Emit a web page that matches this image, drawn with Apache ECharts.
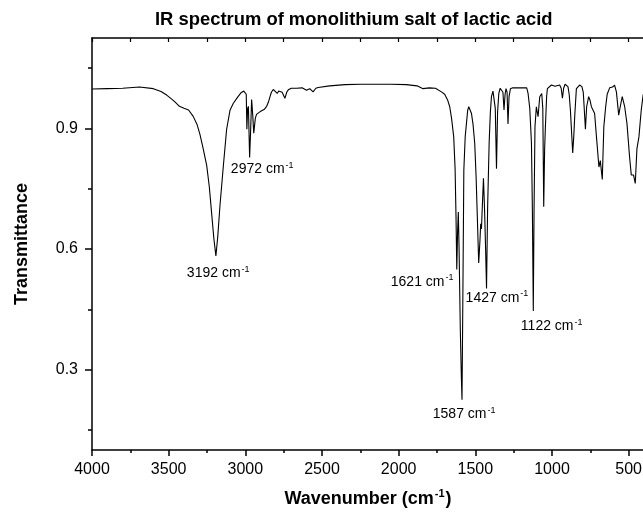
<!DOCTYPE html>
<html>
<head>
<meta charset="utf-8">
<script src="https://cdn.jsdelivr.net/npm/echarts@6/dist/echarts.min.js"></script>
<style>
html,body{margin:0;padding:0;background:#fff;}
#chart{width:643px;height:513px;}
</style>
</head>
<body>
<div id="chart"></div>
<script>
// Spectrum data (wavenumber in cm-1, transmittance)
var wavenumber = [4000,3900,3800,3690,3600,3550,3513,3480,3459,3430,3400,3370,3340,3315,3296,3275,3252,3235,3220,3205,3192,3180,3165,3144,3122,3100,3079,3050,3030,3010,3000,2994,2990,2985,2980,2972,2965,2959,2952,2945,2935,2927,2910,2894,2875,2861,2850,2840,2830,2818,2805,2792,2782,2775,2760,2742,2730,2720,2700,2666,2630,2601,2580,2558,2540,2525,2450,2350,2250,2150,2050,1950,1880,1841,1800,1760,1721,1700,1680,1667,1655,1641,1632,1626,1621,1616,1611,1606,1598,1591,1587,1582,1575,1566,1558,1550,1543,1535,1525,1515,1504,1495,1487,1478,1470,1465,1460,1455,1447,1440,1433,1427,1420,1410,1402,1395,1385,1378,1370,1362,1355,1347,1338,1330,1320,1313,1306,1300,1293,1287,1280,1271,1256,1200,1165,1156,1145,1134,1128,1122,1117,1111,1102,1091,1080,1067,1060,1054,1048,1043,1035,1030,1004,980,950,940,932,924,915,896,888,880,865,858,852,841,820,805,796,782,774,761,752,743,722,710,694,685,672,662,650,640,624,605,592,580,565,555,542,535,526,511,494,483,468,457,446,433,418,405];
var transmittance = [0.998,0.999,1.000,1.003,0.999,0.992,0.983,0.973,0.966,0.955,0.950,0.946,0.930,0.910,0.885,0.850,0.808,0.755,0.690,0.625,0.583,0.630,0.710,0.804,0.898,0.945,0.962,0.978,0.988,0.993,0.996,0.985,0.898,0.950,0.955,0.828,0.900,0.972,0.935,0.888,0.925,0.935,0.940,0.944,0.948,0.955,0.965,0.978,0.990,0.997,0.993,0.987,0.993,0.991,0.990,0.975,0.990,0.996,1.000,1.000,1.001,0.995,0.999,0.991,1.000,1.002,1.006,1.009,1.010,1.010,1.010,1.009,1.006,0.999,1.001,1.000,0.991,0.985,0.970,0.954,0.925,0.879,0.800,0.680,0.549,0.640,0.692,0.600,0.400,0.280,0.225,0.450,0.796,0.880,0.912,0.945,0.954,0.950,0.937,0.910,0.863,0.780,0.680,0.565,0.620,0.663,0.650,0.700,0.776,0.700,0.600,0.502,0.700,0.863,0.940,0.979,0.993,0.995,0.950,0.800,0.940,0.987,1.000,1.004,0.990,0.946,0.985,0.999,0.990,0.911,0.980,0.999,1.001,1.001,1.001,0.987,0.950,0.863,0.700,0.446,0.700,0.904,0.954,0.929,0.979,0.987,0.950,0.705,0.850,0.904,0.980,0.999,1.008,1.005,1.008,1.000,0.975,1.000,1.010,1.004,0.985,0.946,0.839,0.880,0.929,0.999,1.008,1.004,0.990,0.898,0.954,0.979,0.970,0.954,0.937,0.879,0.804,0.820,0.773,0.904,0.954,0.985,1.001,1.003,1.008,0.991,0.933,0.954,0.979,0.975,0.954,0.912,0.829,0.784,0.784,0.763,0.850,0.879,0.946,0.985];

// Peak annotations
var annoText = ['3192 cm','2972 cm','1621 cm','1587 cm','1427 cm','1122 cm'];
var annoX = [3177,2890,1847,1573,1359,1002];
var annoY = [0.540,0.798,0.518,0.189,0.479,0.408];

// Axis ticks
var xMajor = [4000,3500,3000,2500,2000,1500,1000,500];
var xMinor = [3750,3250,2750,2250,1750,1250,750];
var xTop = [4000,3750,3500,3250,3000,2750,2500,2250,2000,1750,1500,1250,1000,750,500];
var yMajor = [0.3,0.6,0.9];
var yMinor = [0.15,0.45,0.75,1.05];

var FONT = "'Liberation Sans', Arial, sans-serif";
var lineData = wavenumber.map(function(w,i){return [w, transmittance[i]];});
var annoData = annoX.map(function(x,i){return {value:[x, annoY[i]], name: annoText[i]};});

function gridRect(){ return {left:92, right:-1, top:38, bottom:63, containLabel:false, outerBoundsMode:'none'}; }
var axisLine = {show:true, lineStyle:{color:'#000', width:1.5}};

var chart = echarts.init(document.getElementById('chart'), null, {renderer:'canvas'});
chart.setOption({
  animation:false,
  backgroundColor:'#fff',
  title:{
    text:'IR spectrum of monolithium salt of lactic acid',
    left:155, top:11, padding:0,
    textStyle:{fontFamily:FONT, fontSize:18.4, fontWeight:'bold', color:'#000'}
  },
  grid:[gridRect(), gridRect()],
  xAxis:[
    {
      type:'value', gridIndex:0, position:'bottom', inverse:true, min:400, max:4000,
      axisLine:axisLine, splitLine:{show:false},
      axisTick:{show:true, inside:false, length:6, customValues:xMajor, lineStyle:{color:'#000', width:1.5}},
      axisLabel:{show:true, customValues:xMajor, margin:12, fontFamily:FONT, fontSize:16, color:'#000',
        formatter:function(v){return String(v);}},
      name:'{a|Wavenumber (cm}{s|-1}{a|)}', nameLocation:'middle', nameGap:38,
      nameTextStyle:{rich:{
        a:{fontFamily:FONT, fontSize:18, fontWeight:'bold', color:'#000', lineHeight:22},
        s:{fontFamily:FONT, fontSize:11, fontWeight:'bold', color:'#000', verticalAlign:'top', lineHeight:22, padding:[0,1,0,1]}
      }}
    },
    {
      type:'value', gridIndex:0, position:'top', inverse:true, min:400, max:4000,
      axisLine:axisLine, splitLine:{show:false},
      axisTick:{show:true, inside:true, length:4, customValues:xTop, lineStyle:{color:'#000', width:1.2}},
      axisLabel:{show:false}
    },
    {
      type:'value', gridIndex:1, position:'bottom', inverse:true, min:400, max:4000,
      axisLine:{show:false}, splitLine:{show:false},
      axisTick:{show:true, inside:false, length:3, customValues:xMinor, lineStyle:{color:'#000', width:1.5}},
      axisLabel:{show:false}
    }
  ],
  yAxis:[
    {
      type:'value', gridIndex:0, position:'left', min:0.1, max:1.125,
      axisLine:axisLine, splitLine:{show:false},
      axisTick:{show:true, inside:false, length:7, customValues:yMajor, lineStyle:{color:'#000', width:1.5}},
      axisLabel:{show:true, customValues:yMajor, margin:14, fontFamily:FONT, fontSize:16, color:'#000',
        formatter:function(v){return v.toFixed(1);}},
      name:'Transmittance', nameLocation:'middle', nameGap:61,
      nameTextStyle:{fontFamily:FONT, fontSize:18, fontWeight:'bold', color:'#000'}
    },
    {
      type:'value', gridIndex:1, position:'left', min:0.1, max:1.125,
      axisLine:{show:false}, splitLine:{show:false},
      axisTick:{show:true, inside:false, length:4, customValues:yMinor, lineStyle:{color:'#000', width:1.5}},
      axisLabel:{show:false}
    }
  ],
  series:[
    {
      type:'line', xAxisIndex:0, yAxisIndex:0, data:lineData, symbol:'none',
      lineStyle:{color:'#000', width:1.1}, silent:true, clip:true
    },
    {
      type:'scatter', xAxisIndex:0, yAxisIndex:0, data:annoData, symbol:'circle', symbolSize:1,
      itemStyle:{color:'rgba(0,0,0,0)'}, silent:true, z:5,
      label:{show:true, position:'inside', opacity:1,
        formatter:function(p){return '{a|'+p.name+'}{s|-1}';},
        rich:{
          a:{fontFamily:FONT, fontSize:14, color:'#000', lineHeight:17},
          s:{fontFamily:FONT, fontSize:9, color:'#000', verticalAlign:'top', lineHeight:17, padding:[0,0,0,1]}
        }
      }
    }
  ]
});
</script>
</body>
</html>
